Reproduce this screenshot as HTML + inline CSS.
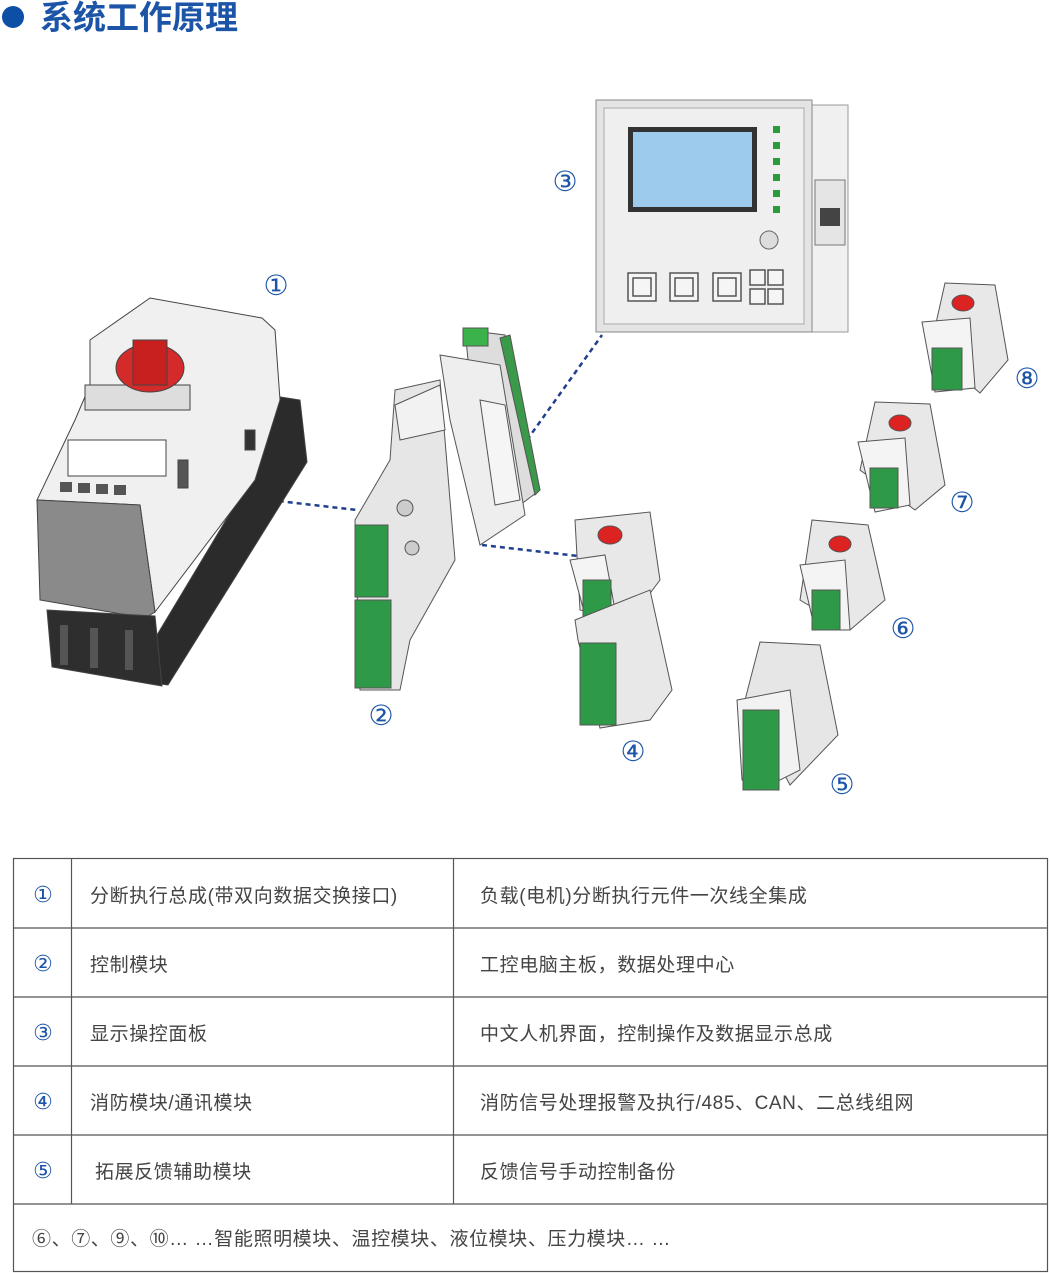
<!DOCTYPE html>
<html><head><meta charset="utf-8"><style>
body{margin:0;width:1050px;height:1273px;background:#fff;font-family:"Liberation Sans","Noto Sans CJK SC",sans-serif;overflow:hidden;position:relative}
.t{position:absolute;white-space:nowrap}
</style></head><body>
<svg width="1050" height="1273" style="position:absolute;left:0;top:0">
<circle cx="13" cy="17" r="11" fill="#0d4ea6"/>
<text x="40" y="29" font-size="33" fill="#1c55a8" font-weight="bold" font-family="Noto Sans CJK SC,sans-serif">系统工作原理</text>

<g stroke="#1f3f8f" stroke-width="2.5" stroke-dasharray="5,4" fill="none">
<line x1="243" y1="497" x2="357" y2="510"/>
<line x1="482" y1="545" x2="578" y2="556"/>
<line x1="527" y1="440" x2="602" y2="335"/>
</g>

<g stroke="#444" stroke-width="1">
<polygon points="255,393 300,400 307,462 168,685 130,680 250,480" fill="#2b2b2b"/>
<polygon points="90,340 150,298 262,318 275,330 280,400 255,480 155,612 140,505 37,500 75,420 90,385" fill="#f0f0f0"/>
<polygon points="37,500 140,505 155,612 145,618 40,600" fill="#8a8a8a"/>
<polygon points="47,610 155,616 162,686 52,667" fill="#2e2e2e"/>
<rect x="68" y="440" width="98" height="36" fill="#fff"/>
<rect x="85" y="385" width="105" height="25" fill="#ddd"/>
<ellipse cx="150" cy="368" rx="34" ry="24" fill="#d42a2a"/>
<rect x="133" y="340" width="34" height="45" fill="#c81f1f"/>
<rect x="245" y="430" width="10" height="20" fill="#333"/>
<rect x="178" y="460" width="10" height="28" fill="#555"/>
</g>
<g fill="#555"><rect x="60" y="482" width="12" height="10"/><rect x="78" y="483" width="12" height="10"/><rect x="96" y="484" width="12" height="10"/><rect x="114" y="485" width="12" height="10"/>
<rect x="60" y="625" width="8" height="40"/><rect x="90" y="628" width="8" height="40"/><rect x="125" y="630" width="8" height="40"/></g>

<g stroke="#555" stroke-width="1">
<polygon points="465,330 505,335 540,490 500,520 470,380" fill="#ddd"/>
<polygon points="500,338 510,335 540,490 535,495" fill="#3b9a4a"/>
<polygon points="440,355 500,365 525,515 480,545 450,420" fill="#eee"/>
<polygon points="480,400 505,405 520,500 495,505" fill="#f5f5f5"/>
<polygon points="395,390 440,380 455,560 410,640 400,690 360,690 355,520 390,460" fill="#e6e6e6"/>
<polygon points="395,405 440,385 445,430 400,440" fill="#f2f2f2"/>
<rect x="355" y="525" width="33" height="72" fill="#2e9a48"/>
<rect x="355" y="600" width="36" height="88" fill="#2e9a48"/>
<rect x="463" y="328" width="25" height="18" fill="#3bb34a"/>
<circle cx="405" cy="508" r="8" fill="#ccc"/>
<circle cx="412" cy="548" r="7" fill="#ccc"/>
</g>

<rect x="812" y="105" width="36" height="227" fill="#f0f0f0" stroke="#999"/>
<rect x="815" y="180" width="30" height="65" fill="#e5e5e5" stroke="#777"/>
<rect x="820" y="208" width="20" height="18" fill="#444"/>
<rect x="596" y="100" width="216" height="232" fill="#e4e4e4" stroke="#888"/>
<rect x="604" y="108" width="200" height="216" fill="#efefef" stroke="#aaa"/>
<rect x="628" y="127" width="129" height="85" fill="#333"/>
<rect x="633" y="132" width="119" height="75" fill="#9ccbee"/>
<g fill="#2c9a3c"><rect x="773" y="126" width="7" height="7"/><rect x="773" y="142" width="7" height="7"/><rect x="773" y="158" width="7" height="7"/><rect x="773" y="174" width="7" height="7"/><rect x="773" y="190" width="7" height="7"/><rect x="773" y="206" width="7" height="7"/></g>
<circle cx="769" cy="240" r="9" fill="#ddd" stroke="#666"/>
<g fill="#f5f5f5" stroke="#555" stroke-width="1.5">
<rect x="628" y="273" width="28" height="28"/><rect x="670" y="273" width="28" height="28"/><rect x="713" y="273" width="28" height="28"/>
<rect x="633" y="278" width="18" height="18"/><rect x="675" y="278" width="18" height="18"/><rect x="718" y="278" width="18" height="18"/>
<rect x="750" y="270" width="15" height="15"/><rect x="768" y="270" width="15" height="15"/><rect x="750" y="289" width="15" height="15"/><rect x="768" y="289" width="15" height="15"/>
</g>

<g stroke="#555" stroke-width="1">
<polygon points="575,520 650,512 660,580 630,620 580,610" fill="#e8e8e8"/>
<polygon points="570,560 605,555 615,610 585,615" fill="#f4f4f4"/>
<ellipse cx="610" cy="535" rx="12" ry="9" fill="#d22"/>
<rect x="583" y="580" width="28" height="40" fill="#2e9a48"/>
<polygon points="575,620 650,590 672,690 650,720 600,728 578,640" fill="#e8e8e8"/>
<rect x="580" y="643" width="36" height="82" fill="#2e9a48"/>
<polygon points="760,642 820,645 838,735 790,785 745,700" fill="#e6e6e6"/>
<polygon points="737,700 790,690 800,770 760,790 742,780" fill="#f2f2f2"/>
<rect x="743" y="710" width="36" height="80" fill="#2e9a48"/>
<polygon points="812,520 868,525 885,600 850,630 800,600" fill="#e8e8e8"/>
<polygon points="800,565 845,560 850,630 815,630" fill="#f4f4f4"/>
<ellipse cx="840" cy="544" rx="11" ry="8" fill="#d22"/>
<rect x="812" y="590" width="28" height="40" fill="#2e9a48"/>
<polygon points="875,402 930,404 945,485 915,510 860,470" fill="#e8e8e8"/>
<polygon points="858,442 905,438 910,505 875,512" fill="#f4f4f4"/>
<ellipse cx="900" cy="423" rx="11" ry="8" fill="#d22"/>
<rect x="870" y="468" width="28" height="40" fill="#2e9a48"/>
<polygon points="945,283 995,285 1008,360 980,393 930,350" fill="#e8e8e8"/>
<polygon points="922,322 970,318 975,388 935,392" fill="#f4f4f4"/>
<ellipse cx="963" cy="303" rx="11" ry="8" fill="#d22"/>
<rect x="932" y="348" width="30" height="42" fill="#2e9a48"/>
</g>

<g font-size="28" fill="#1c55a8" font-family="DejaVu Sans,sans-serif" text-anchor="middle">
<text x="276" y="295">①</text><text x="565" y="191">③</text><text x="381" y="725">②</text><text x="633" y="761">④</text>
<text x="842" y="794">⑤</text><text x="903" y="638">⑥</text><text x="962" y="512">⑦</text><text x="1027" y="388">⑧</text>
</g>

<g stroke="#555" stroke-width="1.2" fill="none">
<rect x="13.5" y="858.5" width="1034" height="413"/>
<line x1="13" y1="928" x2="1048" y2="928"/><line x1="13" y1="997" x2="1048" y2="997"/><line x1="13" y1="1066" x2="1048" y2="1066"/><line x1="13" y1="1135" x2="1048" y2="1135"/><line x1="13" y1="1204" x2="1048" y2="1204"/>
<line x1="71.5" y1="858" x2="71.5" y2="1204"/><line x1="453.5" y1="858" x2="453.5" y2="1204"/>
</g>
<g font-size="22" fill="#1c55a8" font-family="DejaVu Sans,sans-serif" text-anchor="middle">
<text x="43" y="902">①</text><text x="43" y="971">②</text><text x="43" y="1040">③</text><text x="43" y="1109">④</text><text x="43" y="1178">⑤</text>
</g>
</svg>
<div style="position:absolute;left:0;top:0;font-size:19px;letter-spacing:0.6px;color:#444">
<div class="t" style="left:90px;top:881px">分断执行总成(带双向数据交换接口)</div>
<div class="t" style="left:480px;top:881px">负载(电机)分断执行元件一次线全集成</div>
<div class="t" style="left:90px;top:950px">控制模块</div>
<div class="t" style="left:480px;top:950px">工控电脑主板，数据处理中心</div>
<div class="t" style="left:90px;top:1019px">显示操控面板</div>
<div class="t" style="left:480px;top:1019px">中文人机界面，控制操作及数据显示总成</div>
<div class="t" style="left:90px;top:1088px">消防模块/通讯模块</div>
<div class="t" style="left:480px;top:1088px">消防信号处理报警及执行/485、CAN、二总线组网</div>
<div class="t" style="left:95px;top:1157px">拓展反馈辅助模块</div>
<div class="t" style="left:480px;top:1157px">反馈信号手动控制备份</div>
<div class="t" style="left:32px;top:1224px">⑥、⑦、⑨、⑩… …智能照明模块、温控模块、液位模块、压力模块… …</div>
</div>
</body></html>
